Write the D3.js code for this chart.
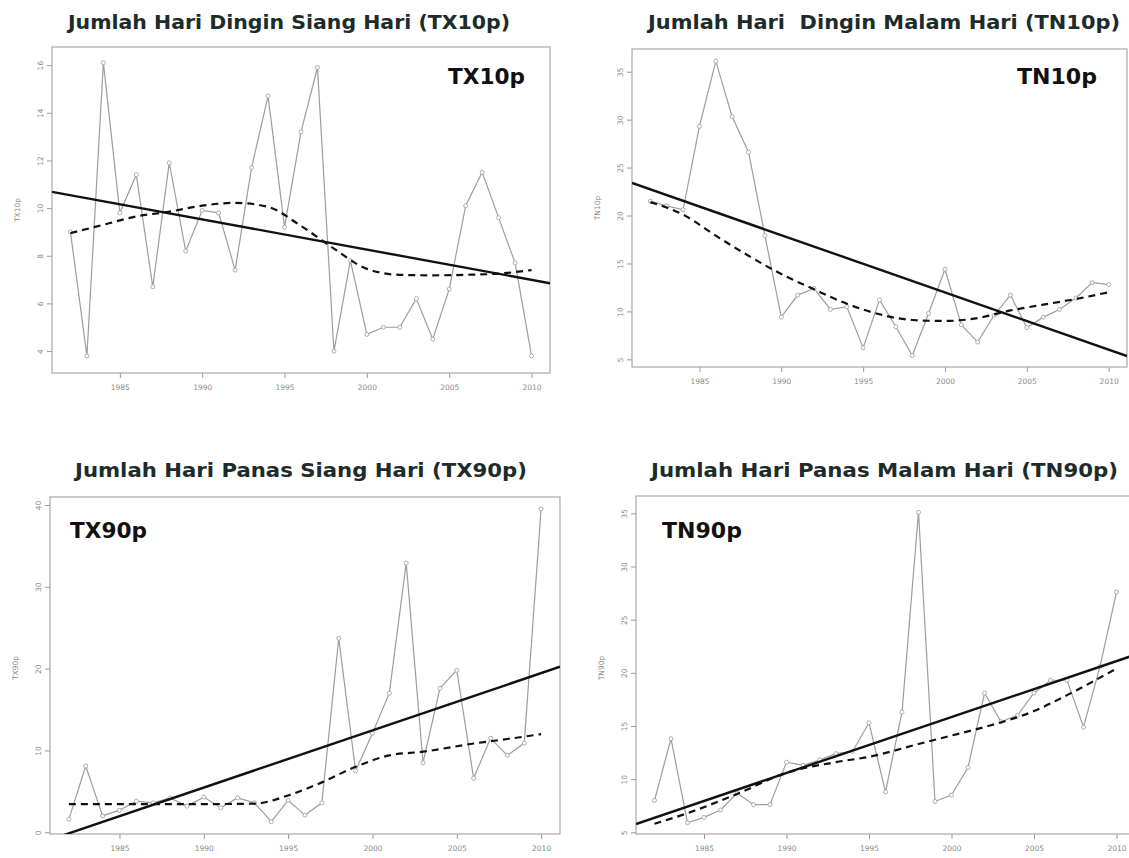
<!DOCTYPE html>
<html>
<head>
<meta charset="utf-8">
<script src="https://cdn.jsdelivr.net/npm/d3@7"></script>
<style>
  body { margin: 0; background: #fff; }
  svg { display: block; }
</style>
</head>
<body>
<div id="chart"></div>
<script>
// years of record and x-axis ticks
const years = [1982, 1983, 1984, 1985, 1986, 1987, 1988, 1989, 1990, 1991, 1992, 1993, 1994, 1995,
  1996, 1997, 1998, 1999, 2000, 2001, 2002, 2003, 2004, 2005, 2006, 2007, 2008, 2009, 2010];
const xTicks = [1985, 1990, 1995, 2000, 2005, 2010];

// yearly index values (%)
const tx10p = [9.0, 3.8, 16.1, 9.8, 11.4, 6.7, 11.9, 8.2, 9.9, 9.8, 7.4, 11.7, 14.7, 9.2, 13.2,
  15.9, 4.0, 7.8, 4.7, 5.0, 5.0, 6.2, 4.5, 6.6, 10.1, 11.5, 9.6, 7.7, 3.8];
const tn10p = [21.5, 21.0, 20.6, 29.3, 36.1, 30.3, 26.6, 17.9, 9.4, 11.7, 12.4, 10.2, 10.5, 6.2, 11.2,
  8.4, 5.4, 9.8, 14.4, 8.6, 6.8, 9.6, 11.7, 8.3, 9.4, 10.2, 11.4, 13.0, 12.8];
const tx90p = [1.6, 8.1, 2.0, 2.7, 3.8, 3.6, 4.2, 3.2, 4.3, 3.0, 4.2, 3.6, 1.3, 3.9, 2.1,
  3.6, 23.7, 7.5, 12.1, 17.0, 32.9, 8.5, 17.6, 19.8, 6.6, 11.5, 9.4, 10.9, 39.5];
const tn90p = [8.0, 13.8, 5.9, 6.4, 7.1, 8.7, 7.6, 7.6, 11.6, 11.3, 11.8, 12.4, 12.6, 15.3, 8.8,
  16.3, 35.1, 7.9, 8.5, 11.1, 18.1, 15.4, 16.0, 18.1, 19.3, 19.3, 14.9, 20.6, 27.6];

// linear trend, value in 1982 and in 2010
const tx10pTrend = [10.54, 6.99];
const tn10pTrend = [22.73, 6.01];
const tx90pTrend = [-0.13, 19.45];
const tn90pTrend = [6.37, 21.10];

// smoothed curve (dashed), read at a few years
const tx10pSmoothYears = [1982, 1984, 1986, 1988, 1990, 1992, 1994, 1996, 1998, 2000, 2002, 2004, 2006, 2008, 2010];
const tx10pSmooth = [8.95, 9.3, 9.65, 9.85, 10.1, 10.22, 10.05, 9.25, 8.3, 7.45, 7.2, 7.18, 7.2, 7.25, 7.4];
const tn10pSmoothYears = [1982, 1984, 1986, 1988, 1990, 1992, 1994, 1996, 1998, 2000, 2002, 2004, 2006, 2008, 2010];
const tn10pSmooth = [21.4, 20.1, 17.9, 15.8, 13.9, 12.3, 10.8, 9.7, 9.1, 9.0, 9.3, 10.1, 10.7, 11.3, 12.0];
const tx90pSmoothYears = [1982, 1986, 1990, 1993, 1995, 1997, 1999, 2001, 2003, 2006, 2008, 2010];
const tx90pSmooth = [3.45, 3.45, 3.45, 3.5, 4.5, 6.1, 8.0, 9.4, 9.85, 10.85, 11.4, 12.0];
const tn90pSmoothYears = [1982, 1984, 1987, 1990, 1993, 1995, 1998, 2000, 2002, 2005, 2007, 2010];
const tn90pSmooth = [5.8, 6.8, 8.6, 10.6, 11.6, 12.1, 13.3, 14.1, 14.9, 16.4, 17.9, 20.4];

// y-axis ticks
const tx10pTicks = [4, 6, 8, 10, 12, 14, 16];
const tn10pTicks = [5, 10, 15, 20, 25, 30, 35];
const tx90pTicks = [0, 10, 20, 30, 40];
const tn90pTicks = [5, 10, 15, 20, 25, 30, 35];

const width = 1129;
const height = 858;
const xDomain = [1980.88, 2011.12];

const panels = [
  {
    name: 'TX10p', title: 'Jumlah Hari Dingin Siang Hari (TX10p)',
    values: tx10p, trend: tx10pTrend, smoothYears: tx10pSmoothYears, smooth: tx10pSmooth,
    yTicks: tx10pTicks, yDomain: [3.08, 16.76],
    box: { l: 52, r: 550, t: 47, b: 373 },
    title_: { x1: 68, x2: 510, y: 29 }, tag: { x: 448, w: 77, y: 84 }, ylab: { x: 17, y: 210 }
  },
  {
    name: 'TN10p', title: 'Jumlah Hari  Dingin Malam Hari (TN10p)',
    values: tn10p, trend: tn10pTrend, smoothYears: tn10pSmoothYears, smooth: tn10pSmooth,
    yTicks: tn10pTicks, yDomain: [4.2, 37.37],
    box: { l: 632, r: 1127, t: 49, b: 367 },
    title_: { x1: 648, x2: 1120, y: 29 }, tag: { x: 1017, w: 80, y: 84 }, ylab: { x: 597, y: 208 }
  },
  {
    name: 'TX90p', title: 'Jumlah Hari Panas Siang Hari (TX90p)',
    values: tx90p, trend: tx90pTrend, smoothYears: tx90pSmoothYears, smooth: tx90pSmooth,
    yTicks: tx90pTicks, yDomain: [-0.21, 40.98],
    box: { l: 50, r: 560, t: 497, b: 834 },
    title_: { x1: 75, x2: 527, y: 477 }, tag: { x: 70, w: 77, y: 538 }, ylab: { x: 15, y: 668 }
  },
  {
    name: 'TN90p', title: 'Jumlah Hari Panas Malam Hari (TN90p)',
    values: tn90p, trend: tn90pTrend, smoothYears: tn90pSmoothYears, smooth: tn90pSmooth,
    yTicks: tn90pTicks, yDomain: [4.84, 36.63],
    box: { l: 636, r: 1135, t: 496, b: 834 },
    title_: { x1: 651, x2: 1118, y: 477 }, tag: { x: 662, w: 80, y: 538 }, ylab: { x: 601, y: 668 }
  }
];

const svg = d3.select('#chart')
  .append('svg')
    .attr('width', width)
    .attr('height', height);

svg.append('rect')
  .attr('width', width)
  .attr('height', height)
  .attr('fill', '#fff');

panels.forEach((p, i) => {
  const b = p.box;
  const x = d3.scaleLinear().domain(xDomain).range([b.l, b.r]);
  const y = d3.scaleLinear().domain(p.yDomain).range([b.b, b.t]);
  const g = svg.append('g');

  const clipId = `clip-${i}`;
  svg.append('clipPath')
    .attr('id', clipId)
    .append('rect')
      .attr('x', b.l)
      .attr('y', b.t)
      .attr('width', b.r - b.l)
      .attr('height', b.b - b.t);

  // title
  g.append('text')
    .attr('x', p.title_.x1)
    .attr('y', p.title_.y)
    .attr('textLength', p.title_.x2 - p.title_.x1)
    .attr('lengthAdjust', 'spacingAndGlyphs')
    .attr('font-family', 'DejaVu Sans, Verdana, sans-serif')
    .attr('font-weight', 'bold')
    .attr('font-size', 19)
    .attr('fill', '#1d2c2a')
    .style('white-space', 'pre')
    .text(p.title);

  // axes
  const axisX = d3.axisBottom(x)
    .tickValues(xTicks)
    .tickSize(5)
    .tickFormat(d3.format('d'));

  const groupX = g.append('g')
    .attr('transform', `translate(0, ${b.b})`)
    .call(axisX);
  groupX.select('.domain').remove();
  groupX.selectAll('line').attr('stroke', '#999');
  groupX.selectAll('text')
    .attr('y', 17)
    .attr('dy', 0)
    .attr('font-family', 'DejaVu Sans, sans-serif')
    .attr('font-size', 7.5)
    .attr('fill', '#8a8a8a');

  const axisY = d3.axisLeft(y)
    .tickValues(p.yTicks)
    .tickSize(5);

  const groupY = g.append('g')
    .attr('transform', `translate(${b.l}, 0)`)
    .call(axisY);
  groupY.select('.domain').remove();
  groupY.selectAll('line').attr('stroke', '#999');
  groupY.selectAll('text')
    .attr('transform', 'rotate(-90)')
    .attr('x', 0)
    .attr('y', -9)
    .attr('dy', 0)
    .attr('text-anchor', 'middle')
    .attr('font-family', 'DejaVu Sans, sans-serif')
    .attr('font-size', 7.5)
    .attr('fill', '#8a8a8a');

  // y axis title
  g.append('text')
    .attr('transform', `translate(${p.ylab.x}, ${p.ylab.y}) rotate(-90)`)
    .attr('text-anchor', 'middle')
    .attr('dy', '0.35em')
    .attr('font-family', 'DejaVu Sans, sans-serif')
    .attr('font-size', 7.5)
    .attr('fill', '#8a8a8a')
    .text(p.name);

  // box
  g.append('rect')
    .attr('x', b.l)
    .attr('y', b.t)
    .attr('width', b.r - b.l)
    .attr('height', b.b - b.t)
    .attr('fill', 'none')
    .attr('stroke', '#a8a8a8')
    .attr('stroke-width', 1.2);

  const plot = g.append('g').attr('clip-path', `url(#${clipId})`);

  const data = years.map((yr, k) => ({ year: yr, value: p.values[k] }));

  const line = d3.line()
    .x(d => x(d.year))
    .y(d => y(d.value));

  plot.append('path')
    .datum(data)
    .attr('d', line)
    .attr('fill', 'none')
    .attr('stroke', '#9d9d9d')
    .attr('stroke-width', 1.2);

  plot.selectAll('circle')
    .data(data)
    .enter()
    .append('circle')
      .attr('cx', d => x(d.year))
      .attr('cy', d => y(d.value))
      .attr('r', 2)
      .attr('fill', '#fff')
      .attr('stroke', '#a5a5a5')
      .attr('stroke-width', 0.9);

  // linear trend, extended across the plot
  const trendScale = d3.scaleLinear()
    .domain([years[0], years[years.length - 1]])
    .range(p.trend);
  const trendData = xDomain.map(yr => ({ year: yr, value: trendScale(yr) }));

  plot.append('path')
    .datum(trendData)
    .attr('d', line)
    .attr('fill', 'none')
    .attr('stroke', '#111')
    .attr('stroke-width', 2.4);

  // smoothed curve
  const smoothData = p.smoothYears.map((yr, k) => ({ year: yr, value: p.smooth[k] }));

  plot.append('path')
    .datum(smoothData)
    .attr('d', line.curve(d3.curveMonotoneX))
    .attr('fill', 'none')
    .attr('stroke', '#111')
    .attr('stroke-width', 2.2)
    .attr('stroke-dasharray', '7,5');

  // index label in the plot
  g.append('text')
    .attr('x', p.tag.x)
    .attr('y', p.tag.y)
    .attr('textLength', p.tag.w)
    .attr('lengthAdjust', 'spacingAndGlyphs')
    .attr('font-family', 'DejaVu Sans, Verdana, sans-serif')
    .attr('font-weight', 'bold')
    .attr('font-size', 21)
    .attr('fill', '#111')
    .text(p.name);
});
</script>
</body>
</html>
